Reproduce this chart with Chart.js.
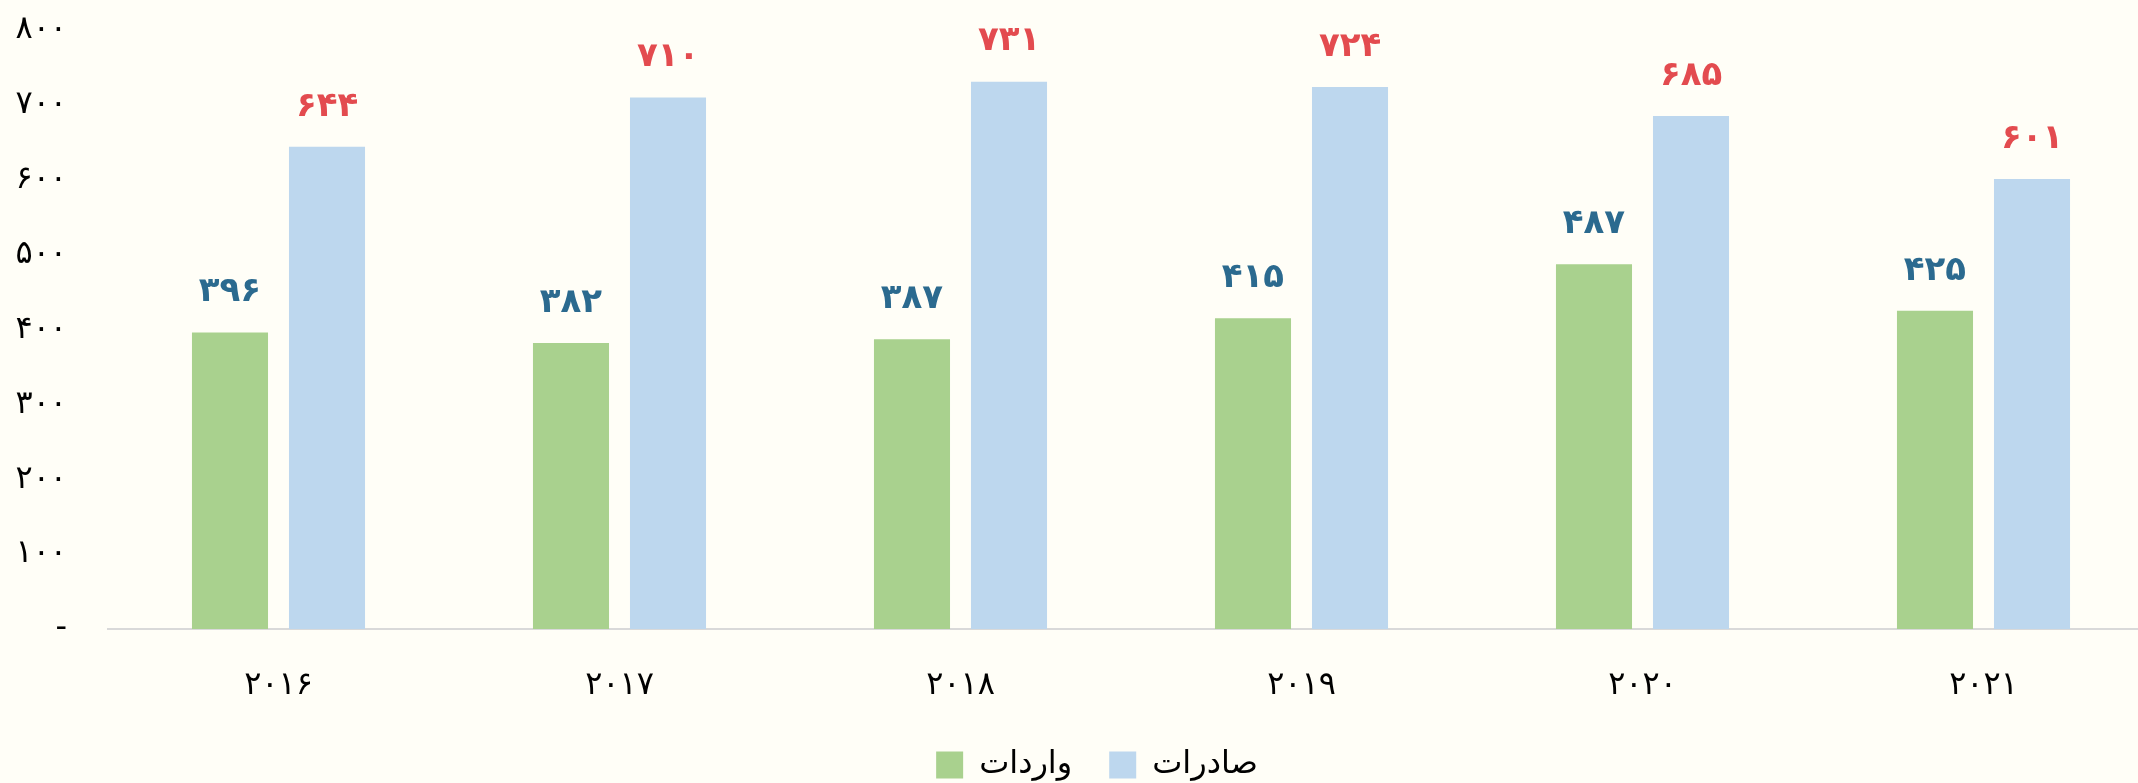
<!DOCTYPE html>
<html>
<head>
<meta charset="utf-8">
<script src="https://cdn.jsdelivr.net/npm/chart.js@4.4.1/dist/chart.umd.min.js"></script>
<style>
  html, body { margin: 0; padding: 0; overflow: hidden; background: #fffef7; }
  canvas { display: block; }
</style>
</head>
<body>
<canvas id="c" width="2192" height="783"></canvas>
<script>
const categories = ['۲۰۱۶', '۲۰۱۷', '۲۰۱۸', '۲۰۱۹', '۲۰۲۰', '۲۰۲۱'];
const seriesNames = ['واردات', 'صادرات'];
const importsValues = [396, 382, 387, 415, 487, 425];
const exportsValues = [644, 710, 731, 724, 685, 601];
const yTickLabels = ['-', '۱۰۰', '۲۰۰', '۳۰۰', '۴۰۰', '۵۰۰', '۶۰۰', '۷۰۰', '۸۰۰'];

const FA_DIGITS = '۰۱۲۳۴۵۶۷۸۹';
function toFa(n) { return String(n).replace(/\d/g, d => FA_DIGITS[+d]); }

const labelColors = ['#2b6a8f', '#e34b4f'];

const valueLabels = {
  id: 'valueLabels',
  afterDatasetsDraw(chart) {
    const ctx = chart.ctx;
    ctx.save();
    ctx.font = 'bold 34px "DejaVu Sans"';
    ctx.textAlign = 'center';
    ctx.textBaseline = 'middle';
    chart.data.datasets.forEach((ds, i) => {
      const meta = chart.getDatasetMeta(i);
      ctx.fillStyle = labelColors[i];
      meta.data.forEach((el, j) => {
        ctx.fillText(toFa(ds.data[j]), el.x, el.y - 40);
      });
    });
    ctx.restore();
  }
};

const legendTweak = {
  id: 'legendTweak',
  afterInit(chart) {
    const lg = chart.legend;
    if (lg && !lg._patched) {
      const orig = lg.fit.bind(lg);
      lg.fit = function () { orig(); this.height = 71; };
      lg._patched = true;
    }
  },
  afterLayout(chart) {
    const lg = chart.legend;
    if (lg) { lg.left += 20; lg.right += 20; }
  }
};

const chart = new Chart(document.getElementById('c'), {
  type: 'bar',
  data: {
    labels: categories,
    datasets: [
      { label: seriesNames[0], data: importsValues, backgroundColor: '#a9d18e', borderWidth: 0,
        categoryPercentage: 0.569, barPercentage: 0.784 },
      { label: seriesNames[1], data: exportsValues, backgroundColor: '#bdd7ee', borderWidth: 0,
        categoryPercentage: 0.569, barPercentage: 0.784 }
    ]
  },
  options: {
    responsive: false,
    animation: false,
    layout: { padding: { top: 30, right: 38, left: 0, bottom: 0 } },
    plugins: {
      tooltip: { enabled: false },
      legend: {
        position: 'bottom',
        labels: {
          boxWidth: 27, boxHeight: 27, padding: 37, color: '#000',
          font: { family: '"DejaVu Sans"', size: 32 }
        }
      }
    },
    scales: {
      x: {
        grid: { display: false },
        border: { display: true, color: '#d9d9d9', width: 2 },
        ticks: { color: '#000', padding: 29, font: { family: '"DejaVu Sans"', size: 32 } },
        afterFit(scale) { scale.height = 83; }
      },
      y: {
        min: 0, max: 800,
        grid: { display: false, drawTicks: true, tickLength: 41 },
        border: { display: false },
        ticks: {
          stepSize: 100, color: '#000', padding: 0,
          font: { family: '"DejaVu Sans"', size: 32 },
          callback: (value, index) => yTickLabels[index]
        },
        afterFit(scale) { scale.width = 108; }
      }
    }
  },
  plugins: [valueLabels, legendTweak]
});
chart.update();
</script>
</body>
</html>
